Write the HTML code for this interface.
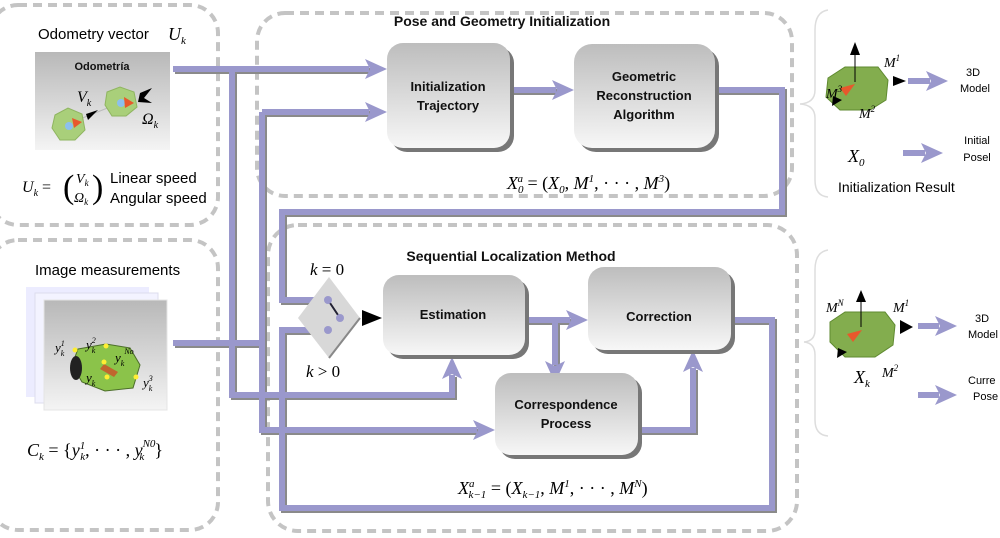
<!DOCTYPE html>
<html><head><meta charset="utf-8"><style>
html,body{margin:0;padding:0;background:#fff;}
svg{display:block;}
.t{font-family:"Liberation Sans",sans-serif;}
.b{font-family:"Liberation Sans",sans-serif;font-weight:bold;font-size:13px;fill:#111;}
.m{font-family:"Liberation Serif",serif;font-style:italic;}
.n{font-family:"Liberation Serif",serif;font-style:normal;}
</style></head><body>
<svg width="1000" height="538" viewBox="0 0 1000 538" xmlns="http://www.w3.org/2000/svg">
<defs>
<linearGradient id="g" x1="0" y1="0" x2="0" y2="1"><stop offset="0" stop-color="#bdbdbd"/><stop offset="1" stop-color="#f7f7f7"/></linearGradient>
<linearGradient id="gi" x1="0" y1="0" x2="0" y2="1"><stop offset="0" stop-color="#b8b8b8"/><stop offset="1" stop-color="#f4f4f4"/></linearGradient>
<path id="ar" d="M-22,-10 L0,0 L-22,10 L-17,0 z"/>
</defs>
<g fill="none" stroke="#c4c4c4" stroke-width="4" stroke-dasharray="9,6">
<rect x="-10" y="5" width="228" height="220" rx="28"/>
<rect x="-10" y="240" width="228" height="290" rx="28"/>
<rect x="257" y="13" width="535" height="183" rx="28"/>
<rect x="268" y="225" width="529" height="306" rx="30"/>
</g>
<path d="M828,10 Q815,12 815,30 L815,90 Q815,103 800,104 Q815,105 815,118 L815,180 Q815,196 828,197" fill="none" stroke="#ddd" stroke-width="1.5"/>
<path d="M828,250 Q815,252 815,270 L815,330 Q815,341 804,342 Q815,343 815,355 L815,420 Q815,435 828,436" fill="none" stroke="#ddd" stroke-width="1.5"/>
<g fill="none" stroke-width="6">
<g stroke="#8a8a8a" transform="translate(2,2)">
<path d="M173,69 L369,69"/><path d="M232,69 L232,395 L452,395 L452,375"/>
<path d="M262,112 L369,112"/><path d="M262,112 L262,430 L477,430"/>
<path d="M173,343 L262,343"/>
<path d="M510,90 L556,90"/><path d="M717,90 L782,90 L782,212 L282,212 L282,300 L328,300"/>
<path d="M732,320 L772,320 L772,508 L282,508 L282,330 L328,330"/>
<path d="M525,320 L570,320"/><path d="M555,320 L555,365"/>
<path d="M638,430 L693,430 L693,368"/>
</g>
<g stroke="#9a98cc">
<path d="M173,69 L369,69"/><path d="M232,69 L232,395 L452,395 L452,375"/>
<path d="M262,112 L369,112"/><path d="M262,112 L262,430 L477,430"/>
<path d="M173,343 L262,343"/>
<path d="M510,90 L556,90"/><path d="M717,90 L782,90 L782,212 L282,212 L282,300 L328,300"/>
<path d="M732,320 L772,320 L772,508 L282,508 L282,330 L328,330"/>
<path d="M525,320 L570,320"/><path d="M555,320 L555,365"/>
<path d="M638,430 L693,430 L693,368"/>
<path d="M908,81 L930,81"/><path d="M903,153 L925,153"/><path d="M918,326 L939,326"/><path d="M918,395 L939,395"/>
</g>
</g>
<g fill="#9a98cc">
<use href="#ar" transform="translate(387,69)"/>
<use href="#ar" transform="translate(387,112)"/>
<use href="#ar" transform="translate(574,90)"/>
<use href="#ar" transform="translate(588,320)"/>
<use href="#ar" transform="translate(495,430)"/>
<use href="#ar" transform="translate(452,357) rotate(-90)"/>
<use href="#ar" transform="translate(555,383) rotate(90)"/>
<use href="#ar" transform="translate(693,350) rotate(-90)"/>
<use href="#ar" transform="translate(948,81)"/>
<use href="#ar" transform="translate(943,153)"/>
<use href="#ar" transform="translate(957,326)"/>
<use href="#ar" transform="translate(957,395)"/>
</g>
<g>
<rect x="391" y="47" width="123" height="105" rx="16" fill="#777"/>
<rect x="387" y="43" width="123" height="105" rx="16" fill="url(#g)"/>
<rect x="578" y="48" width="141" height="104" rx="18" fill="#777"/>
<rect x="574" y="44" width="141" height="104" rx="18" fill="url(#g)"/>
<rect x="387" y="279" width="142" height="80" rx="16" fill="#777"/>
<rect x="383" y="275" width="142" height="80" rx="16" fill="url(#g)"/>
<rect x="592" y="271" width="143" height="83" rx="16" fill="#777"/>
<rect x="588" y="267" width="143" height="83" rx="16" fill="url(#g)"/>
<rect x="499" y="377" width="143" height="82" rx="16" fill="#777"/>
<rect x="495" y="373" width="143" height="82" rx="16" fill="url(#g)"/>
</g>
<text class="b" x="448" y="91" text-anchor="middle">Initialization</text>
<text class="b" x="448" y="110" text-anchor="middle">Trajectory</text>
<text class="b" x="644" y="81" text-anchor="middle">Geometric</text>
<text class="b" x="644" y="100" text-anchor="middle">Reconstruction</text>
<text class="b" x="644" y="119" text-anchor="middle">Algorithm</text>
<text class="b" x="453" y="319" text-anchor="middle">Estimation</text>
<text class="b" x="659" y="321" text-anchor="middle">Correction</text>
<text class="b" x="566" y="409" text-anchor="middle">Correspondence</text>
<text class="b" x="566" y="428" text-anchor="middle">Process</text>
<text class="b" x="502" y="26" text-anchor="middle" style="font-size:14px">Pose and Geometry Initialization</text>
<text class="b" x="511" y="261" text-anchor="middle" style="font-size:14px">Sequential Localization Method</text>
<polygon points="298,318 329,277 360,318 329,358" fill="#d8d8d8"/>
<path d="M360,318 L329,358" stroke="#888" stroke-width="2"/>
<line x1="328" y1="300" x2="340" y2="318" stroke="#223" stroke-width="2"/>
<circle cx="328" cy="300" r="4" fill="#9a98cc"/><circle cx="340" cy="318" r="4" fill="#9a98cc"/><circle cx="328" cy="330" r="4" fill="#9a98cc"/>
<polygon points="362,310 382,318 362,326" fill="#000"/>
<text class="m" x="310" y="275" font-size="17">k <tspan class="n">= 0</tspan></text>
<text class="m" x="306" y="377" font-size="17">k <tspan class="n">&gt; 0</tspan></text>
<text class="m" x="507" y="189" font-size="18">X<tspan font-size="11" dy="4">0</tspan><tspan font-size="11" dx="-6" dy="-11">a</tspan><tspan class="n" dy="7"> = (</tspan>X<tspan font-size="11" dy="4">0</tspan><tspan class="n" dy="-4">, </tspan>M<tspan font-size="11" dy="-7">1</tspan><tspan class="n" dy="7">, · · · , </tspan>M<tspan font-size="11" dy="-7">3</tspan><tspan class="n" dy="7">)</tspan></text>
<text class="m" x="458" y="494" font-size="18">X<tspan font-size="11" dy="-7">a</tspan><tspan font-size="11" dx="-6" dy="11">k−1</tspan><tspan class="n" dy="-4"> = (</tspan>X<tspan font-size="11" dy="4">k−1</tspan><tspan class="n" dy="-4">, </tspan>M<tspan font-size="11" dy="-7">1</tspan><tspan class="n" dy="7">, · · · , </tspan>M<tspan font-size="11" dy="-7">N</tspan><tspan class="n" dy="7">)</tspan></text>
<text class="t" x="38" y="39" font-size="15">Odometry vector</text>
<text class="m" x="168" y="40" font-size="18">U<tspan font-size="11" dy="4">k</tspan></text>
<rect x="35" y="52" width="135" height="98" fill="url(#gi)"/>
<text class="b" x="102" y="70" text-anchor="middle" style="font-size:11px">Odometría</text>
<line x1="70" y1="123" x2="120" y2="103" stroke="#bbb"/>
<polygon points="55,115 68,108 82,114 85,130 75,140 60,140 52,128" fill="#a9cf7a" stroke="#8fb560"/>
<polygon points="107,92 120,87 134,92 137,107 126,116 112,116 105,105" fill="#a9cf7a" stroke="#8fb560"/>
<circle cx="69" cy="126" r="4" fill="#8cc0ee"/><circle cx="121" cy="103" r="4" fill="#8cc0ee"/>
<polygon points="72,118 82,122 74,128" fill="#e8582c"/><polygon points="124,97 134,103 125,108" fill="#e8582c"/>
<polygon points="86,114 98,110 88,120" fill="#000"/><polygon points="140,93 152,88 144,98 152,103 138,102" fill="#000"/>
<text class="m" x="77" y="102" font-size="16">V<tspan font-size="10" dy="4">k</tspan></text>
<text class="m" x="142" y="124" font-size="16">Ω<tspan font-size="10" dy="4">k</tspan></text>
<text class="m" x="22" y="192" font-size="16">U<tspan font-size="10" dy="4">k</tspan><tspan class="n" dy="-4"> =</tspan></text>
<text class="n" x="63" y="198" font-size="34">(</text><text class="n" x="92" y="198" font-size="34">)</text>
<text class="m" x="76" y="183" font-size="14">V<tspan font-size="9" dy="3">k</tspan></text>
<text class="m" x="74" y="202" font-size="14">Ω<tspan font-size="9" dy="3">k</tspan></text>
<text class="t" x="110" y="183" font-size="15">Linear speed</text>
<text class="t" x="110" y="203" font-size="15">Angular speed</text>
<text class="t" x="35" y="275" font-size="15">Image measurements</text>
<rect x="26" y="287" width="123" height="110" fill="#ececff"/>
<rect x="35" y="293" width="123" height="110" fill="#f3f3ff" stroke="#dde"/>
<rect x="44" y="300" width="123" height="110" fill="url(#gi)" stroke="#e4e4e4"/>
<polygon points="78,349 106,344 130,348 140,365 133,388 105,391 82,382 72,365" fill="#8bc34a" stroke="#4c6e2a"/>
<ellipse cx="76" cy="368" rx="6" ry="12" fill="#222"/>
<polygon points="104,364 118,372 114,377 100,369" fill="#c0662e"/>
<g fill="#ffee33"><circle cx="75" cy="350" r="2.5"/><circle cx="106" cy="346" r="2.5"/><circle cx="104" cy="362" r="2.5"/><circle cx="107" cy="377" r="2.5"/><circle cx="136" cy="377" r="2.5"/></g>
<g class="m" font-size="13"><text x="55" y="352">y<tspan font-size="8" dy="-6">1</tspan><tspan font-size="8" dx="-4" dy="10">k</tspan></text>
<text x="86" y="349">y<tspan font-size="8" dy="-6">2</tspan><tspan font-size="8" dx="-4" dy="10">k</tspan></text>
<text x="115" y="362">y<tspan font-size="8" dy="4">k</tspan><tspan font-size="8" dy="-12">No</tspan></text>
<text x="86" y="382">y<tspan font-size="8" dy="4">k</tspan></text>
<text x="143" y="387">y<tspan font-size="8" dy="-6">3</tspan><tspan font-size="8" dx="-4" dy="10">k</tspan></text></g>
<text class="m" x="27" y="456" font-size="18">C<tspan font-size="11" dy="4">k</tspan><tspan class="n" dy="-4"> = {</tspan>y<tspan font-size="11" dy="-7">1</tspan><tspan font-size="11" dx="-5" dy="11">k</tspan><tspan class="n" dy="-4">, · · · , </tspan>y<tspan font-size="11" dy="-9">N0</tspan><tspan font-size="11" dx="-16" dy="13">k</tspan><tspan class="n" dx="10" dy="-4">}</tspan></text>
<polygon points="828,78 845,67 878,67 888,80 886,100 870,110 840,110 826,97" fill="#83ad4e" stroke="#5f8a30"/>
<line x1="855" y1="82" x2="855" y2="50" stroke="#000"/><polygon points="850,55 855,42 860,55" fill="#000"/>
<polygon points="893,76 906,81 893,86" fill="#000"/>
<polygon points="833,96 842,100 832,106" fill="#000"/>
<polygon points="840,88 855,84 846,96" fill="#e8582c"/>
<text class="m" x="884" y="67" font-size="14">M<tspan font-size="9" dy="-6">1</tspan></text>
<text class="m" x="826" y="98" font-size="14">M<tspan font-size="9" dy="-6">3</tspan></text>
<text class="m" x="859" y="118" font-size="14">M<tspan font-size="9" dy="-6">2</tspan></text>
<text class="t" x="973" y="76" font-size="11" text-anchor="middle">3D</text>
<text class="t" x="975" y="92" font-size="11" text-anchor="middle">Model</text>
<text class="m" x="848" y="162" font-size="18">X<tspan font-size="11" dy="4">0</tspan></text>
<text class="t" x="977" y="144" font-size="11" text-anchor="middle">Initial</text>
<text class="t" x="977" y="161" font-size="11" text-anchor="middle">Posel</text>
<text class="t" x="838" y="192" font-size="14">Initialization Result</text>
<polygon points="830,322 845,312 885,312 895,325 893,345 875,357 845,357 830,342" fill="#83ad4e" stroke="#5f8a30"/>
<line x1="861" y1="327" x2="861" y2="300" stroke="#000"/><polygon points="856,302 861,290 866,302" fill="#000"/>
<polygon points="900,320 913,327 900,334" fill="#000"/>
<polygon points="838,348 847,352 837,358" fill="#000"/>
<polygon points="847,334 862,330 853,342" fill="#e8582c"/>
<text class="m" x="826" y="312" font-size="14">M<tspan font-size="9" dy="-6">N</tspan></text>
<text class="m" x="893" y="312" font-size="14">M<tspan font-size="9" dy="-6">1</tspan></text>
<text class="m" x="882" y="377" font-size="14">M<tspan font-size="9" dy="-6">2</tspan></text>
<text class="t" x="982" y="322" font-size="11" text-anchor="middle">3D</text>
<text class="t" x="983" y="338" font-size="11" text-anchor="middle">Model</text>
<text class="m" x="854" y="383" font-size="18">X<tspan font-size="11" dy="4">k</tspan></text>
<text class="t" x="968" y="384" font-size="11">Curre</text>
<text class="t" x="973" y="400" font-size="11">Pose</text>
</svg>
</body></html>
